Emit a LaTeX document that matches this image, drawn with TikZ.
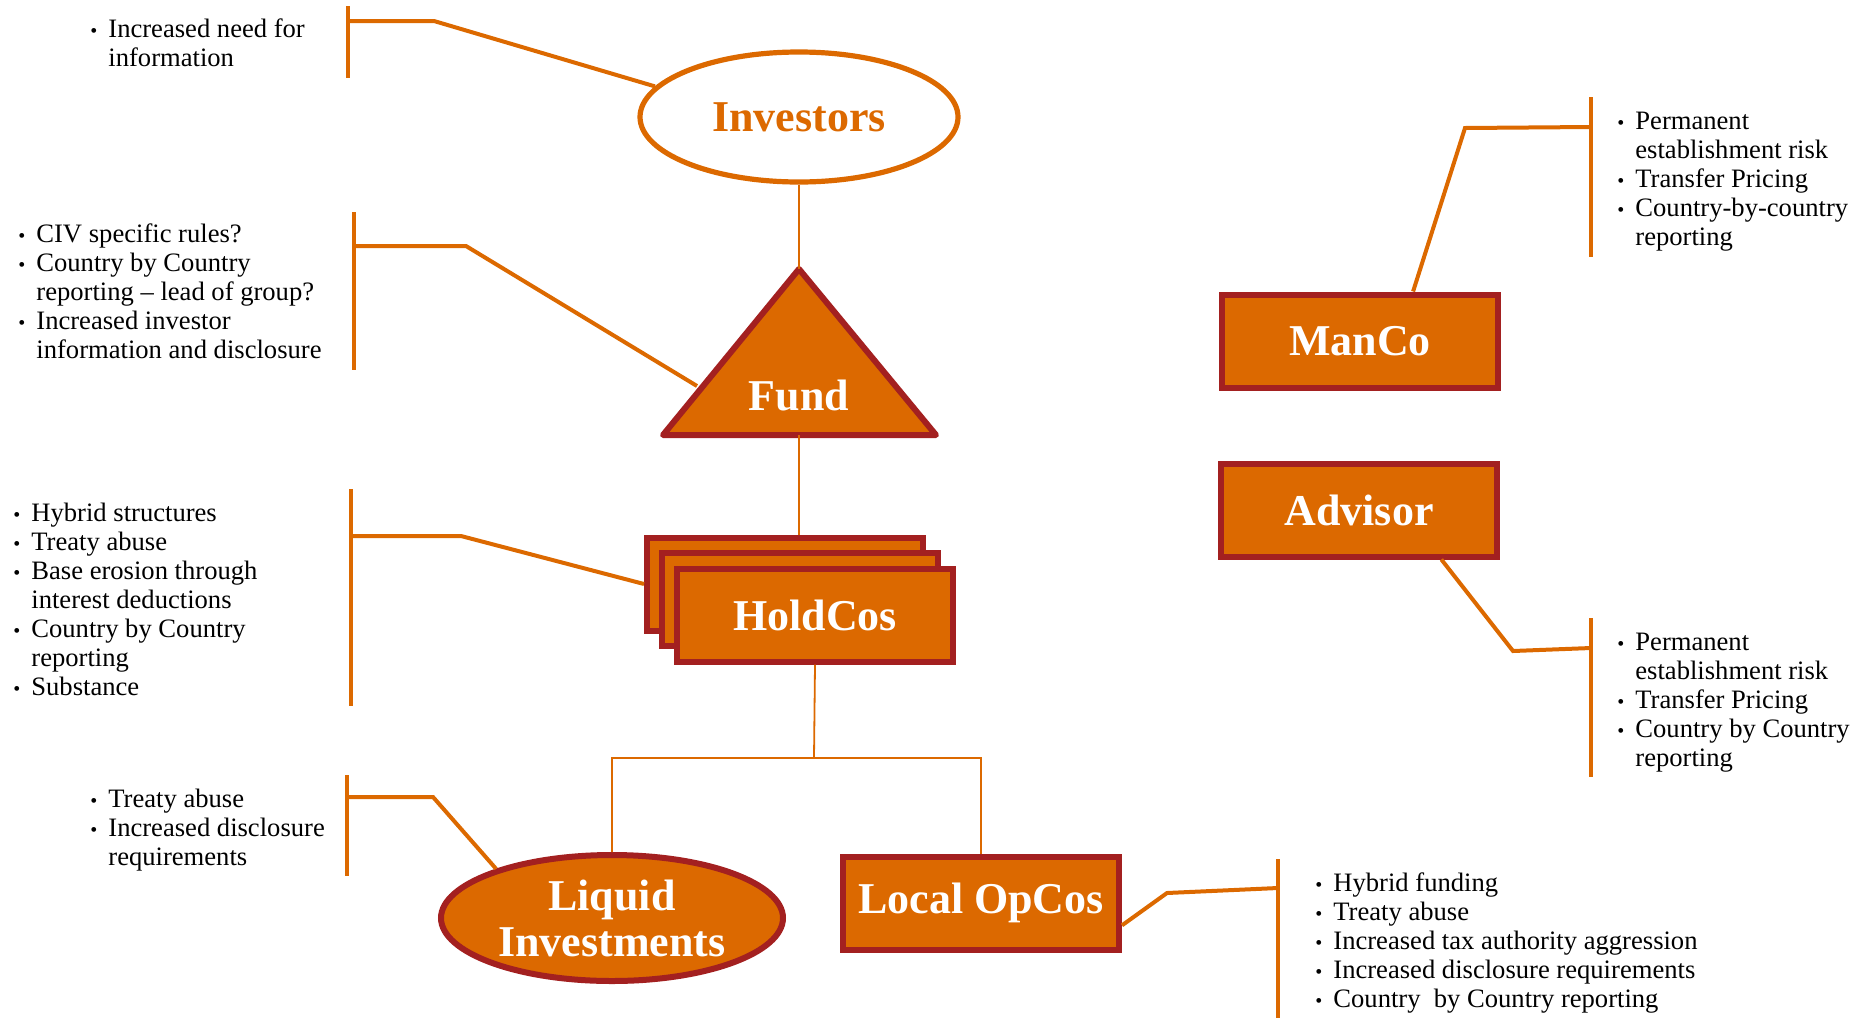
\documentclass[tikz,border=0pt]{standalone}
\usepackage{fontspec}
\setmainfont{Liberation Serif}
\usepackage{tikz}
\usetikzlibrary{shapes.geometric}
\definecolor{pwcorange}{RGB}{220,105,0}
\definecolor{pwcred}{RGB}{163,32,32}
\tikzset{%
  % Specifications for style of nodes:
        base/.style = {draw=pwcred, line width=3pt, fill=pwcorange, text=white,
                       inner sep=0pt, font=\fontsize{22}{23}\selectfont\bfseries},
      entity/.style = {base, rectangle, minimum width=138pt, minimum height=46.5pt},
       asset/.style = {base, ellipse, minimum width=171pt, minimum height=63pt,
                       align=center},
    investor/.style = {ellipse, draw=pwcorange, line width=2.6pt, text=pwcorange,
                       minimum width=159pt, minimum height=65pt, inner sep=0pt,
                       font=\fontsize{22}{23}\selectfont\bfseries},
    fundtext/.style = {text=white, inner sep=0pt,
                       font=\fontsize{22}{23}\selectfont\bfseries},
      issues/.style = {anchor=north west, align=left, inner sep=0pt,
                       font=\fontsize{13.3}{14.5}\selectfont},
        link/.style = {draw=pwcorange, line width=0.9pt},
     bracket/.style = {draw=pwcorange, line width=2pt},
}
\newcommand{\itm}{\makebox[9pt][l]{\normalsize\textbullet}}
\newcommand{\ind}{\hspace*{9pt}}

\begin{document}
\begin{tikzpicture}[x=0.5pt, y=-0.5pt]
  \useasboundingbox (0,0) rectangle (1864,1018);

  % main structure
  \node (investors) [investor] at (799,117) {Investors};
  \draw[base, line join=round] (799,269) -- (936,435) -- (663,435) -- cycle;
  \coordinate (fundtop) at (799,269);
  \coordinate (fundbase) at (799,435);
  \coordinate (fundside) at (697,386);
  \node (fund) [fundtext] at (799,395) {Fund};

  \node (holdA) [entity] at (785,584) {};
  \draw[link] (fundbase) -- (holdA.north -| fundbase);
  \draw[link] (investors.south) -- (fundtop);
  \node (holdB) [entity, xshift=7.5pt, yshift=-7.75pt] at (holdA) {};
  \node (holdC) [entity, xshift=7.5pt, yshift=-7.75pt] at (holdB) {HoldCos};

  \node (liquid) [asset] at (612,918) {Liquid\\Investments};
  \node (opcos)  [entity] at (981,903) {Local OpCos};
  \node (manco)  [entity] at (1360,341) {ManCo};
  \node (advisor) [entity] at (1359,510) {Advisor};

  \coordinate (split) at (814,758);
  \draw[link] (holdC.south) -- (split) -| (liquid.north);
  \draw[link] (split) -| (opcos.north);

  % issue lists
  \node (invIssues) [issues] at (90,18.5) {\itm Increased need for\\ \ind information};
  \node (fundIssues) [issues] at (18,223.5) {\itm CIV specific rules?\\
    \itm Country by Country\\ \ind reporting -- lead of group?\\
    \itm Increased investor\\ \ind information and disclosure};
  \node (holdIssues) [issues] at (13,502.5) {\itm Hybrid structures\\
    \itm Treaty abuse\\
    \itm Base erosion through\\ \ind interest deductions\\
    \itm Country by Country\\ \ind reporting\\
    \itm Substance};
  \node (liqIssues) [issues] at (90,788.5) {\itm Treaty abuse\\
    \itm Increased disclosure\\ \ind requirements};
  \node (opIssues) [issues] at (1315,872.5) {\itm Hybrid funding\\
    \itm Treaty abuse\\
    \itm Increased tax authority aggression\\
    \itm Increased disclosure requirements\\
    \itm Country~ by Country reporting};
  \node (manIssues) [issues] at (1617,111.5) {\itm Permanent\\ \ind establishment risk\\
    \itm Transfer Pricing\\
    \itm Country-by-country\\ \ind reporting};
  \node (advIssues) [issues] at (1617,632.5) {\itm Permanent\\ \ind establishment risk\\
    \itm Transfer Pricing\\
    \itm Country by Country\\ \ind reporting};

  % brackets and leaders
  \coordinate (invB) at (348,21);
  \coordinate (fundB) at (354,246);
  \coordinate (holdB') at (351,536);
  \coordinate (liqB) at (347,797);
  \coordinate (opB) at (1278,888);
  \coordinate (manB) at (1591,127);
  \coordinate (advB) at (1591,648);

  \draw[bracket] (348,6) -- (348,78);
  \draw[bracket] (354,212) -- (354,370);
  \draw[bracket] (351,489) -- (351,706);
  \draw[bracket] (347,775) -- (347,876);
  \draw[bracket] (1278,859) -- (1278,1018);
  \draw[bracket] (1591,97) -- (1591,257);
  \draw[bracket] (1591,618) -- (1591,777);

  \draw[bracket] (investors.168) -- (434,21) -- (invB);
  \draw[bracket] (fundside) -- (466,246) -- (fundB);
  \draw[bracket] (holdA.west) -- (461,536) -- (holdB');
  \draw[bracket] (liquid.157) -- (433,797) -- (liqB);
  \draw[bracket] (opcos.-9) -- (1167,893) -- (opB);
  \draw[bracket] (manco.43) -- (1465,128) -- (manB);
  \draw[bracket] (advisor.-31) -- (1513,651) -- (advB);
\end{tikzpicture}
\end{document}
